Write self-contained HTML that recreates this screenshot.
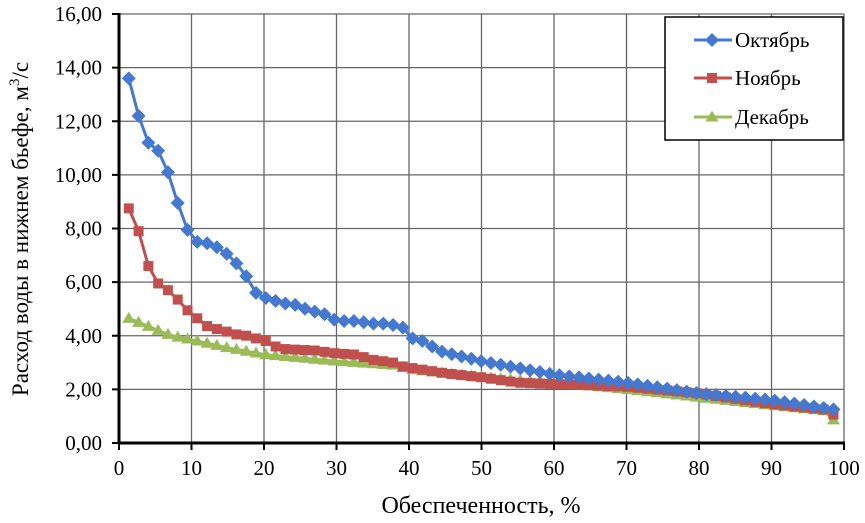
<!DOCTYPE html>
<html><head><meta charset="utf-8"><style>
html,body{margin:0;padding:0;background:#fff;}
svg{display:block;font-family:"Liberation Serif",serif;}
</style></head><body>
<svg id="s" width="865" height="523" xmlns="http://www.w3.org/2000/svg"></svg>
<script>
const s=document.getElementById('s');
const X0=119,X1=844,Y0=443,Y16=14;
const px=v=>X0+(X1-X0)*v/100, py=v=>Y0-(Y0-Y16)*v/16;
let h='';
for(let i=1;i<=10;i++)h+=`<line x1="${px(i*10)}" y1="${Y16}" x2="${px(i*10)}" y2="${Y0}" stroke="#666" stroke-width="1.3"/>`;
for(let i=1;i<=8;i++)h+=`<line x1="${X0}" y1="${py(i*2)}" x2="${X1}" y2="${py(i*2)}" stroke="#666" stroke-width="1.3"/>`;
h+=`<line x1="${X0}" y1="${Y16-1}" x2="${X0}" y2="${Y0+1}" stroke="#000" stroke-width="3"/>`;
h+=`<line x1="${X0-1}" y1="${Y0}" x2="${X1+1}" y2="${Y0}" stroke="#000" stroke-width="3"/>`;
for(let i=0;i<=8;i++){const y=py(i*2);h+=`<line x1="${X0-7}" y1="${y}" x2="${X0}" y2="${y}" stroke="#000" stroke-width="2"/>`;
h+=`<text x="102" y="${y+7}" font-size="21" text-anchor="end">${(i*2).toFixed(2).replace('.',',')}</text>`;}
for(let i=0;i<=10;i++){const x=px(i*10);h+=`<line x1="${x}" y1="${Y0}" x2="${x}" y2="${Y0+7}" stroke="#000" stroke-width="2"/>`;
h+=`<text x="${x}" y="475" font-size="21" text-anchor="middle">${i*10}</text>`;}
h+=`<text x="481" y="513" font-size="24" text-anchor="middle">Обеспеченность, %</text>`;
h+=`<text transform="translate(28,229) rotate(-90)" font-size="23" text-anchor="middle">Расход воды в нижнем бьефе, м<tspan font-size="15" dy="-9">3</tspan><tspan dy="9">/с</tspan></text>`;
function interp(k,x){for(let i=0;i<k.length-1;i++){if(x<=k[i+1][0]){const t=(x-k[i][0])/(k[i+1][0]-k[i][0]);return k[i][1]+t*(k[i+1][1]-k[i][1]);}}return k[k.length-1][1];}
const oct=[[1.35,13.6],[2.7,12.2],[4.05,11.2],[5.4,10.9],[6.75,10.1],[8.1,8.95],[9.45,7.95],[10.8,7.5],[12.2,7.45],[13.5,7.3],[14.9,7.05],[16.2,6.7],[17.6,6.2],[18.9,5.6],[20.3,5.4],[21.6,5.3],[23,5.2],[24.3,5.15],[25.7,5.0],[27,4.9],[28.4,4.8],[29.7,4.6],[31,4.55],[32.4,4.55],[33.8,4.5],[35.1,4.45],[36.5,4.45],[37.8,4.4],[39.2,4.3],[40.5,3.9],[41.9,3.8],[43.2,3.6],[44.6,3.4],[50,3.05],[60,2.55],[70,2.25],[80,1.85],[90,1.6],[98.6,1.25]];
const nov=[[1.35,8.75],[2.7,7.9],[4.05,6.6],[5.4,5.95],[6.75,5.7],[8.1,5.35],[9.45,4.95],[10.8,4.65],[12.2,4.35],[13.5,4.25],[14.9,4.15],[16.2,4.05],[17.6,4.0],[18.9,3.9],[20.3,3.8],[21.6,3.6],[23,3.5],[27,3.45],[29.7,3.35],[32.4,3.3],[33.8,3.2],[35.1,3.1],[37.8,3.0],[39.2,2.85],[45,2.6],[50,2.45],[55,2.25],[60,2.2],[70,2.1],[80,1.85],[90,1.45],[97.3,1.25],[98.6,1.05]];
const dec=[[1.35,4.65],[2.7,4.5],[4.05,4.35],[5.4,4.2],[6.75,4.05],[8.1,3.95],[10,3.85],[15,3.55],[20,3.3],[30,3.05],[38,2.9],[40,2.75],[50,2.45],[60,2.25],[70,2.0],[80,1.7],[90,1.4],[97.3,1.2],[98.6,0.85]];
function mk(type,x,y,c){
 if(type==0)return `<polygon points="${x},${y-7} ${x+7},${y} ${x},${y+7} ${x-7},${y}" fill="${c}"/>`;
 if(type==1)return `<rect x="${x-5}" y="${y-5}" width="10" height="10" fill="${c}"/>`;
 return `<polygon points="${x},${y-6.5} ${x+6.5},${y+4.5} ${x-6.5},${y+4.5}" fill="${c}"/>`;}
const ser=[[oct,'#4579d0',0],[nov,'#c0504d',1],[dec,'#9bbb59',2]];
for(const [k,c,t] of ser.slice().reverse()){
 let pts=[],m='';
 for(let i=1;i<=73;i++){const x=i*1.35;const y=interp(k,x);pts.push(`${px(x).toFixed(1)},${py(y).toFixed(1)}`);m+=mk(t,px(x),py(y),c);}
 h+=`<polyline points="${pts.join(' ')}" fill="none" stroke="${c}" stroke-width="3"/>`+m;
}
h+=`<rect x="665" y="17" width="178" height="123" fill="#fff" stroke="#000" stroke-width="1.5"/>`;
const names=['Октябрь','Ноябрь','Декабрь'],ly=[40,78,117];
ser.forEach(([k,c,t],i)=>{h+=`<line x1="694" y1="${ly[i]}" x2="732" y2="${ly[i]}" stroke="${c}" stroke-width="3"/>`+mk(t,712,ly[i],c)+`<text x="735" y="${ly[i]+7}" font-size="21">${names[i]}</text>`;});
s.innerHTML=h;
</script>
</body></html>
